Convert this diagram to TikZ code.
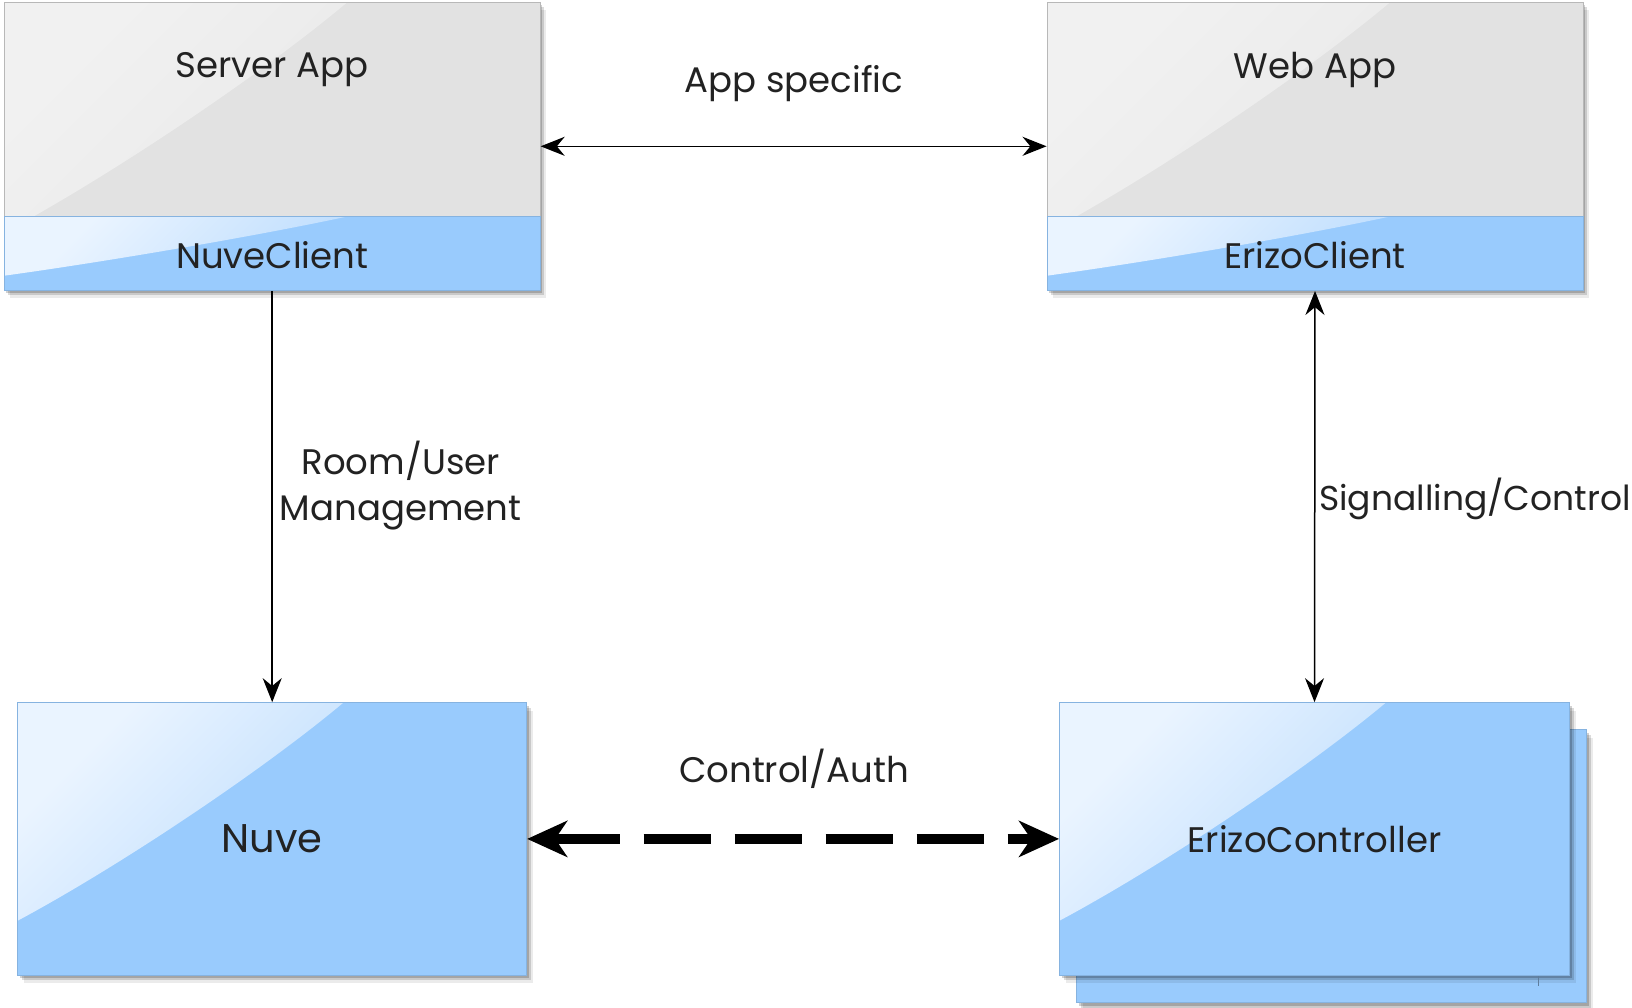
\documentclass[tikz,border=0pt]{standalone}
\usepackage{fontspec}
\setmainfont{Poppins}
\usetikzlibrary{arrows.meta,shadows,calc}
\definecolor{bluebase}{HTML}{99CBFD}
\definecolor{blueedge}{HTML}{86B3E0}
\definecolor{glossblueA}{HTML}{EAF4FF}
\definecolor{glossblueB}{HTML}{A4D0FD}
\definecolor{graybase}{HTML}{E2E2E2}
\definecolor{grayedge}{HTML}{B8B8B8}
\definecolor{glossgrayA}{HTML}{F1F1F1}
\definecolor{glossgrayB}{HTML}{E4E4E4}
\definecolor{txt}{HTML}{222222}
\tikzset{
  gloss/.style 2 args={path picture={
    \path[shade, top color=#1, bottom color=#2, shading angle=45]
      let \p1=(path picture bounding box.north west), \p2=(path picture bounding box.south east) in
      (\x1,\y1) -- ({\x1+0.64*(\x2-\x1)},\y1)
      .. controls ({\x1+0.48*(\x2-\x1)},{\y1+0.25*(\y2-\y1)}) and ({\x1+0.2*(\x2-\x1)},{\y1+0.6*(\y2-\y1)})
      .. (\x1,{\y1+0.8*(\y2-\y1)}) -- cycle;}},
  boxshadow/.style={
    drop shadow={shadow xshift=2pt, shadow yshift=-3pt, fill=black, opacity=0.18},
    drop shadow={shadow xshift=4pt, shadow yshift=-5pt, fill=black, opacity=0.14},
    drop shadow={shadow xshift=6pt, shadow yshift=-8pt, fill=black, opacity=0.08}},
  bluebox/.style={rectangle, inner sep=0pt, fill=bluebase, draw=blueedge, line width=0.9pt,
    gloss={glossblueA}{glossblueB}, text=txt},
  graybox/.style={rectangle, inner sep=0pt, fill=graybase, draw=grayedge, line width=0.9pt,
    gloss={glossgrayA}{glossgrayB}, text=txt},
  boxfont/.style={font=\fontsize{35.5}{42}\selectfont},
  lbl/.style={text=txt, inner sep=0pt, font=\fontsize{35.5}{46}\selectfont},
  thinarrow/.style={line width=1.5pt, {Stealth[length=24pt,width=19pt]}-{Stealth[length=24pt,width=19pt]}},
  thickdash/.style={line width=10pt, {Stealth[length=40pt,width=36pt,inset=12pt]}-{Stealth[length=40pt,width=36pt,inset=12pt]},
    dash pattern=on 67pt off 24pt, dash phase=0pt}
}
\begin{document}
\begin{tikzpicture}[x=1pt,y=-1pt]
\useasboundingbox[fill=white] (0,0) rectangle (1632,1007);

% Server App
\node[graybox, boxshadow, minimum width=536pt, minimum height=288pt] (server) at (272.2,146.3) {};
\node[bluebox, minimum width=536pt, minimum height=74pt] (nuveclientbox) at (272.2,253.5) {};
\node[boxfont, text=txt] (nuveclient) at (272.2,255.5) {NuveClient};
\node[boxfont, text=txt] (servertxt) at (272.2,70) {Server App};

% Web App
\node[graybox, boxshadow, minimum width=536pt, minimum height=288pt] (webapp) at (1315,146.3) {};
\node[bluebox, minimum width=536pt, minimum height=74pt] (erizoclientbox) at (1315,253.5) {};
\node[boxfont, text=txt] (erizoclient) at (1315,255.5) {ErizoClient};
\node[boxfont, text=txt] (webapptxt) at (1315,70) {Web App};

% Nuve
\node[bluebox, boxshadow, minimum width=509pt, minimum height=272.6pt, font=\fontsize{40}{46}\selectfont] (nuve) at (272.2,838.9) {\raisebox{-2pt}{Nuve}};

% ErizoController (stacked)
\node[bluebox, boxshadow, minimum width=510pt, minimum height=273pt] (erizoback) at (1331.5,866) {};
\node[bluebox, boxshadow, minimum width=510pt, minimum height=272.6pt, boxfont] (erizo) at (1314.5,838.9) {ErizoController};
\draw[blueedge!70!black, line width=0.8pt] (1538,976) -- (1538,986);

% connectors
\draw[thinarrow] (server.east) -- (webapp.west);
\draw[line width=1.5pt, -{Stealth[length=24pt,width=19pt]}] (nuveclientbox.south) -- (nuve.north);
\draw[thinarrow] (erizoclientbox.south) -- (erizo.north);
\draw[thickdash] (nuve.east) -- (erizo.west);

% labels
\node[lbl] (appspec) at (794,84) {App specific};
\node[lbl, align=center] (roomuser) at (400.7,486) {Room/User\\Management};
\node[lbl, anchor=west, font=\fontsize{34.5}{46}\selectfont] (signal) at (1319,499) {Signalling/Control};
\node[lbl] (ctrlauth) at (794,769) {Control/Auth};
\end{tikzpicture}
\end{document}
